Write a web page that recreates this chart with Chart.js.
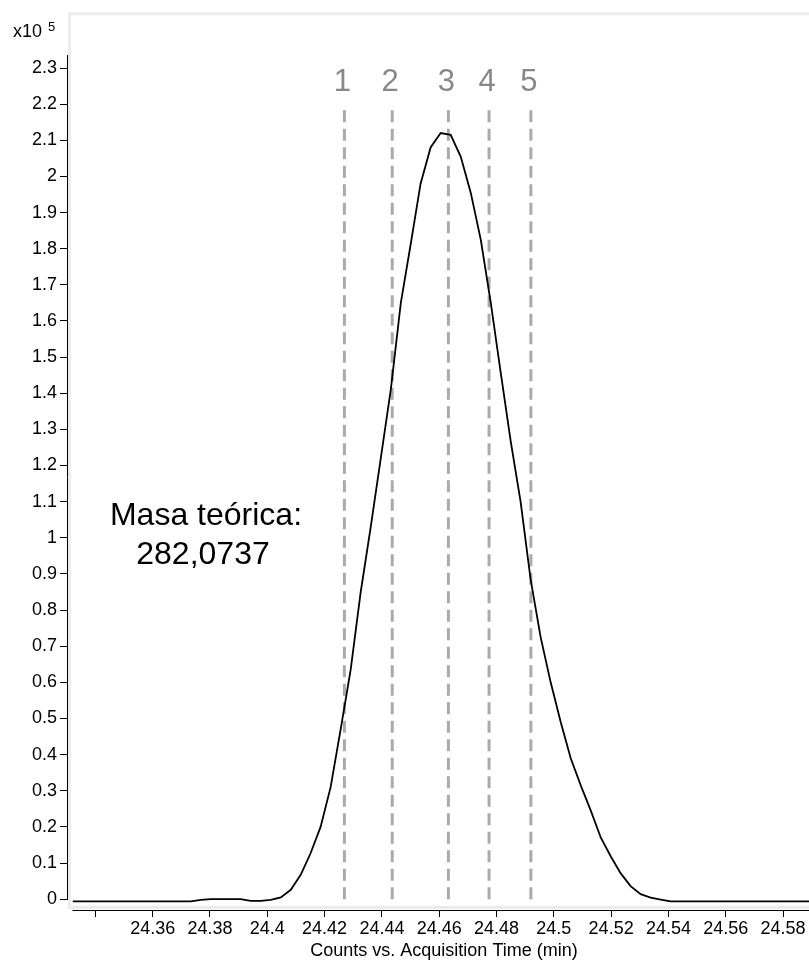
<!DOCTYPE html>
<html>
<head>
<meta charset="utf-8">
<script src="https://cdn.jsdelivr.net/npm/chart.js@4.4.0/dist/chart.umd.min.js"></script>
<style>
  html, body { margin: 0; padding: 0; background: #fff; overflow: hidden; }
  canvas { display: block; }
</style>
</head>
<body>
<canvas id="eic" width="820" height="965"></canvas>
<script>
// retention time (min) and counts (x10^5) of the extracted ion chromatogram
const times = [
  24.3321, 24.3500, 24.3700, 24.3733, 24.3768, 24.3802, 24.3837, 24.3872, 24.3907, 24.3942,
  24.3977, 24.4012, 24.4047, 24.4082, 24.4117, 24.4151, 24.4186, 24.4221, 24.4256, 24.4291,
  24.4326, 24.4361, 24.4396, 24.4431, 24.4466, 24.4501, 24.4535, 24.4570, 24.4605, 24.4640,
  24.4675, 24.4710, 24.4745, 24.4780, 24.4815, 24.4850, 24.4884, 24.4919, 24.4954, 24.4989,
  24.5024, 24.5059, 24.5094, 24.5129, 24.5164, 24.5199, 24.5233, 24.5268, 24.5303, 24.5338,
  24.5373, 24.5408, 24.5600, 24.5929
];
const counts = [
  -0.006, -0.006, -0.006, -0.006, -0.002, 0.000, 0.000, 0.000, 0.000, -0.005,
  -0.005, -0.002, 0.005, 0.026, 0.068, 0.127, 0.200, 0.310, 0.470, 0.635,
  0.850, 1.030, 1.220, 1.410, 1.650, 1.815, 1.980, 2.080, 2.120, 2.115,
  2.055, 1.955, 1.825, 1.650, 1.455, 1.265, 1.100, 0.885, 0.725, 0.600,
  0.490, 0.390, 0.315, 0.245, 0.170, 0.118, 0.072, 0.036, 0.014, 0.004,
  -0.001, -0.006, -0.006, -0.006
];

// spectrum positions marked across the peak
const markerTimes = [24.4269, 24.4436, 24.4632, 24.4774, 24.4920];
const markerLabels = ['1', '2', '3', '4', '5'];
const markerTop = 2.19;

const xTicks = [24.34, 24.36, 24.38, 24.40, 24.42, 24.44, 24.46, 24.48, 24.50, 24.52, 24.54, 24.56, 24.58];
const xTickLabels = ['', '24.36', '24.38', '24.4', '24.42', '24.44', '24.46', '24.48', '24.5', '24.52', '24.54', '24.56', '24.58'];
const yTicks = [0, 0.1, 0.2, 0.3, 0.4, 0.5, 0.6, 0.7, 0.8, 0.9, 1, 1.1, 1.2, 1.3, 1.4, 1.5, 1.6, 1.7, 1.8, 1.9, 2, 2.1, 2.2, 2.3];
const yTickLabels = ['0', '0.1', '0.2', '0.3', '0.4', '0.5', '0.6', '0.7', '0.8', '0.9', '1', '1.1', '1.2', '1.3', '1.4', '1.5', '1.6', '1.7', '1.8', '1.9', '2', '2.1', '2.2', '2.3'];

const FONT = "'Liberation Sans', Arial, sans-serif";
Chart.defaults.font.family = FONT;
Chart.defaults.color = '#000';

const markerSets = markerTimes.map(t => ({
  data: [{ x: t, y: 0 }, { x: t, y: markerTop }],
  borderColor: '#aaaaaa',
  borderWidth: 3,
  borderDash: [12, 6.5],
  pointRadius: 0
}));

// frame, offset axis lines and the text annotations
const decor = {
  id: 'decor',
  beforeDatasetsDraw(chart) {
    const { ctx, chartArea: a } = chart;
    ctx.save();
    ctx.strokeStyle = '#ececec';
    ctx.lineWidth = 3;
    ctx.strokeRect(a.left + 1.5, a.top, a.right - a.left + 5, a.bottom - a.top - 2.5);
    ctx.restore();
  },
  afterDraw(chart) {
    const { ctx, chartArea: a, scales: { x, y } } = chart;
    ctx.save();
    ctx.strokeStyle = '#000';
    ctx.lineWidth = 1;
    ctx.beginPath();
    ctx.moveTo(a.left - 0.5, y.getPixelForValue(2.336));
    ctx.lineTo(a.left - 0.5, y.getPixelForValue(0) + 1);
    ctx.moveTo(a.left + 4.5, a.bottom + 0.5);
    ctx.lineTo(a.right, a.bottom + 0.5);
    ctx.stroke();

    ctx.fillStyle = '#000';
    ctx.textAlign = 'left';
    ctx.textBaseline = 'alphabetic';
    ctx.font = '18px ' + FONT;
    ctx.fillText('x10', 13, 37);
    ctx.font = '13px ' + FONT;
    ctx.fillText('5', 48, 31);

    ctx.fillStyle = '#888888';
    ctx.textAlign = 'center';
    ctx.font = '31px ' + FONT;
    markerTimes.forEach((t, i) => {
      ctx.fillText(markerLabels[i], x.getPixelForValue(t) - 2, 91);
    });

    ctx.fillStyle = '#000';
    ctx.font = '32px ' + FONT;
    ctx.fillText('Masa teórica:', 206, 525);
    ctx.fillText('282,0737', 203, 564);
    ctx.restore();
  }
};

new Chart(document.getElementById('eic'), {
  type: 'line',
  data: {
    datasets: [{
      data: times.map((t, i) => ({ x: t, y: counts[i] })),
      borderColor: '#000',
      borderWidth: 1.8,
      pointRadius: 0,
      tension: 0
    }, ...markerSets]
  },
  options: {
    responsive: false,
    animation: false,
    devicePixelRatio: 1,
    layout: { padding: { top: 8.5, left: 0, right: 0, bottom: 0 } },
    plugins: { legend: { display: false }, tooltip: { enabled: false } },
    scales: {
      x: {
        type: 'linear',
        min: 24.33044,
        max: 24.5929,
        afterFit: s => { s.height = 55; },
        afterBuildTicks: s => { s.ticks = xTicks.map(v => ({ value: v })); },
        border: { display: false },
        grid: { drawOnChartArea: false, tickLength: 7, color: '#000' },
        ticks: {
          autoSkip: false, maxRotation: 0, padding: 1,
          font: { size: 18 },
          callback: (v, i) => xTickLabels[i]
        },
        title: {
          display: true,
          text: 'Counts vs. Acquisition Time (min)',
          font: { size: 18 },
          padding: { top: 0, bottom: 3 }
        }
      },
      y: {
        min: -0.03,
        max: 2.45,
        afterFit: s => { s.width = 68; },
        afterBuildTicks: s => { s.ticks = yTicks.map(v => ({ value: v })); },
        border: { display: false },
        grid: { drawOnChartArea: false, tickLength: 8, color: '#000' },
        ticks: {
          padding: 3,
          font: { size: 18 },
          callback: (v, i) => yTickLabels[i]
        }
      }
    }
  },
  plugins: [decor]
});
</script>
</body>
</html>
